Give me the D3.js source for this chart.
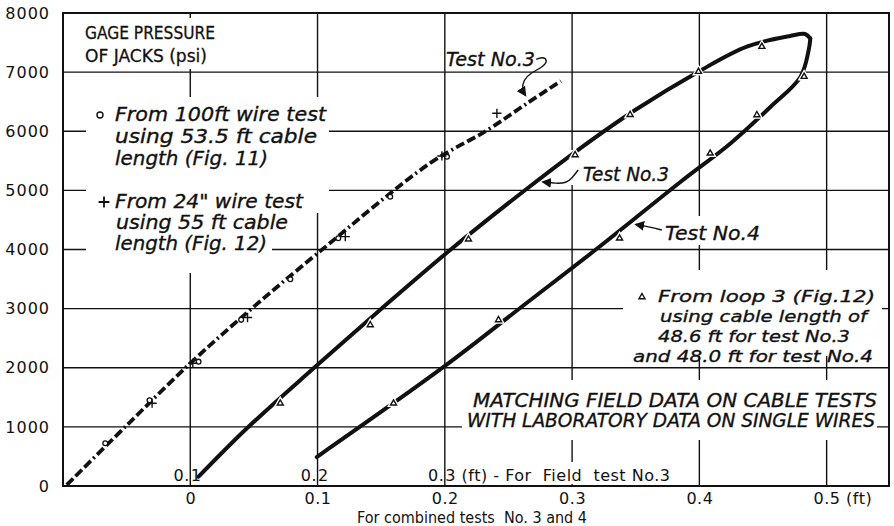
<!DOCTYPE html>
<html>
<head>
<meta charset="utf-8">
<script src="https://cdn.jsdelivr.net/npm/d3@7"></script>
<style>
  body { margin: 0; background: #fff; }
  svg text { fill: #111; }
  .ann { font-family: "DejaVu Sans", sans-serif; font-style: italic; font-size: 19px; stroke: #111; stroke-width: 0.35px; }
  .small { font-size: 16.5px; }
  .lbl { font-family: "DejaVu Sans", sans-serif; font-size: 16px; }
  .cond { font-family: "DejaVu Sans Condensed", "Liberation Sans Narrow", "DejaVu Sans", sans-serif; font-stretch: condensed; font-size: 18.5px; stroke: #111; stroke-width: 0.3px; }
</style>
</head>
<body>
<svg id="chart" width="894" height="526"></svg>
<script>
// ---- values ----
const pressureTicks = [0, 1000, 2000, 3000, 4000, 5000, 6000, 7000, 8000];
const lengthTicks = [0, 0.1, 0.2, 0.3, 0.4, 0.5];
const lengthLabels = ["0", "0.1", "0.2", "0.3", "0.4", "0.5 (ft)"];
const fieldTicks = [0.1, 0.2, 0.3];            // field test No.3 scale = combined + 0.1
const fieldLabels = ["0.1", "0.2", "0.3 (ft) - For  Field  test No.3"];

// laboratory single wire curve (dash-dot)
const labFt  = [-0.097, -0.051, 0, 0.047, 0.0994, 0.1883, 0.2336, 0.2650, 0.2912];
const labPsi = [20, 1003, 2075, 2977, 3924, 5458, 6021, 6478, 6850];

// field test No.3 (loading branch) and No.4 (return branch)
const test3Ft  = [0.0065, 0.0445, 0.0969, 0.1506, 0.2042, 0.2632, 0.3064, 0.3496, 0.3993, 0.4373, 0.4713, 0.4831, 0.4870];
const test3Psi = [157, 976, 1991, 3006, 3992, 5007, 5712, 6360, 7008, 7431, 7612, 7645, 7573];
const test4Ft  = [0.4872, 0.4859, 0.4794, 0.4558, 0.4244, 0.3851, 0.3222, 0.2617, 0.2001, 0.0994];
const test4Psi = [7572, 7374, 6918, 6410, 5793, 5142, 4059, 3053, 2030, 490];

// data points
const circleFt  = [-0.0668, -0.032, 0.0065, 0.040, 0.0786, 0.1163, 0.1571, 0.2017];
const circlePsi = [722, 1450, 2103, 2810, 3496, 4190, 4894, 5570];
const plusFt  = [-0.030, 0.002, 0.045, 0.1218, 0.1977, 0.2409];
const plusPsi = [1400, 2075, 2850, 4218, 5582, 6304];
const triFt  = [0.0707, 0.1414, 0.2186, 0.3024, 0.3456, 0.3993, 0.4491, 0.4823, 0.4452, 0.4085, 0.3373, 0.2422, 0.1597];
const triPsi = [1399, 2723, 4173, 5599, 6279, 7008, 7431, 6923, 6275, 5627, 4190, 2808, 1399];

// leader arrows (ft, psi)
const leaderTop = [[0.2718, 7217], [0.2775, 7262], [0.2807, 7194], [0.2775, 7093], [0.2671, 6981], [0.2618, 6867], [0.2606, 6698], [0.2632, 6613]];
const leaderMid = [[0.3048, 5346], [0.3001, 5210], [0.2954, 5125], [0.2875, 5117], [0.2773, 5142]];
const leaderLow = [[0.3705, 4330], [0.3614, 4381], [0.3504, 4423]];

// ---- layout ----
const svg = d3.select("#chart");
const m = { left: 63, right: 889, top: 13, bottom: 486 };
const ink = "#111";

const x = d3.scaleLinear().domain([-0.1, 0.549]).range([m.left, m.right]);
const y = d3.scaleLinear().domain([0, 8000]).range([m.bottom, m.top]);

svg.append("rect").attr("width", 894).attr("height", 526).attr("fill", "#fff");

// grid
const grid = svg.append("g").attr("stroke", ink).attr("stroke-width", 1.4);
grid.selectAll("line.h").data(pressureTicks.slice(1, -1)).join("line")
  .attr("x1", m.left).attr("x2", m.right)
  .attr("y1", d => y(d)).attr("y2", d => y(d));
grid.selectAll("line.v").data(lengthTicks).join("line")
  .attr("y1", m.top).attr("y2", m.bottom)
  .attr("x1", d => x(d)).attr("x2", d => x(d));

// gaps in the grid behind the lettering
const gaps = [
  [78, 18, 222, 69], [86, 97, 329, 213], [86, 97, 272, 273],
  [566, 150, 674, 185], [662, 216, 766, 245], [623, 270, 882, 356],
  [462, 380, 877, 440], [452, 462, 676, 484]
];
svg.append("g").selectAll("rect").data(gaps).join("rect")
  .attr("x", d => d[0]).attr("y", d => d[1])
  .attr("width", d => d[2] - d[0]).attr("height", d => d[3] - d[1])
  .attr("fill", "#fff");

svg.append("rect")
  .attr("x", m.left).attr("y", m.top).attr("width", m.right - m.left).attr("height", m.bottom - m.top)
  .attr("fill", "none").attr("stroke", ink).attr("stroke-width", 2);

// axes
const yAxis = svg.append("g").attr("transform", `translate(${m.left},0)`)
  .call(d3.axisLeft(y).tickValues(pressureTicks).tickFormat(d3.format("d")).tickSize(0).tickPadding(13));
yAxis.select(".domain").remove();
yAxis.selectAll("text").attr("class", "lbl").attr("letter-spacing", 1).attr("fill", ink);

const xAxis = svg.append("g").attr("transform", `translate(0,${m.bottom})`)
  .call(d3.axisBottom(x).tickValues(lengthTicks).tickFormat((d, i) => lengthLabels[i]).tickSize(0).tickPadding(7));
xAxis.select(".domain").remove();
xAxis.selectAll("text").attr("class", "lbl").attr("letter-spacing", 0.5).attr("fill", ink)
  .style("white-space", "pre")
  .filter((d, i) => i === lengthTicks.length - 1)
  .attr("text-anchor", "start").attr("dx", "-0.85em");

// field-test scale written just above the base line, split at the decimal point
const field = svg.append("g").attr("class", "lbl").attr("letter-spacing", 0.5);
fieldTicks.forEach((v, i) => {
  const s = fieldLabels[i];
  const xp = x(v - 0.1);
  field.append("text").attr("x", xp - 0.5).attr("y", 481).attr("text-anchor", "end").text(s.slice(0, 2));
  field.append("text").attr("x", xp + 0.5).attr("y", 481).style("white-space", "pre").text(s.slice(2));
});

svg.append("text").attr("class", "lbl").attr("font-size", 16)
  .attr("x", 357).attr("y", 523)
  .attr("textLength", 230).attr("lengthAdjust", "spacingAndGlyphs")
  .style("white-space", "pre")
  .text("For combined tests  No. 3 and 4");

// curves
const line = d3.line().x(d => x(d[0])).y(d => y(d[1])).curve(d3.curveCatmullRom.alpha(0.5));

svg.append("path").datum(d3.zip(labFt, labPsi))
  .attr("d", line).attr("fill", "none").attr("stroke", ink).attr("stroke-width", 3.8)
  .attr("stroke-dasharray", "9,3.5,9,3.5,9,3.5,2,3.5");

svg.append("path").datum(d3.zip(test3Ft, test3Psi))
  .attr("d", line).attr("fill", "none").attr("stroke", ink).attr("stroke-width", 4)
  .attr("stroke-linecap", "round").attr("stroke-linejoin", "round");
svg.append("path").datum(d3.zip(test4Ft, test4Psi))
  .attr("d", line).attr("fill", "none").attr("stroke", ink).attr("stroke-width", 4)
  .attr("stroke-linecap", "round").attr("stroke-linejoin", "round");

// markers
svg.append("g").selectAll("circle").data(d3.zip(circleFt, circlePsi)).join("circle")
  .attr("cx", d => x(d[0])).attr("cy", d => y(d[1])).attr("r", 2.4)
  .attr("fill", "#fff").attr("stroke", ink).attr("stroke-width", 1.3);

svg.append("g").selectAll("path").data(d3.zip(plusFt, plusPsi)).join("path")
  .attr("transform", d => `translate(${x(d[0])},${y(d[1])})`)
  .attr("d", d3.symbol().type(d3.symbolPlus).size(30))
  .attr("fill", "none").attr("stroke", ink).attr("stroke-width", 1.4);

const tri = d3.symbol().type(d3.symbolTriangle2).size(26);
const triG = svg.append("g");
triG.selectAll("path.halo").data(d3.zip(triFt, triPsi)).join("path").attr("class", "halo")
  .attr("transform", d => `translate(${x(d[0])},${y(d[1])})`)
  .attr("d", tri).attr("fill", "#fff").attr("stroke", "#fff").attr("stroke-width", 4);
triG.selectAll("path.mk").data(d3.zip(triFt, triPsi)).join("path").attr("class", "mk")
  .attr("transform", d => `translate(${x(d[0])},${y(d[1])})`)
  .attr("d", tri).attr("fill", "#fff").attr("stroke", ink).attr("stroke-width", 1.4);

// leader arrows
svg.append("defs").append("marker")
  .attr("id", "head").attr("viewBox", "0 0 10 10").attr("refX", 8).attr("refY", 5)
  .attr("markerWidth", 7).attr("markerHeight", 7).attr("orient", "auto-start-reverse")
  .append("path").attr("d", "M0,0L10,5L0,10z").attr("fill", ink);
const lead = d3.line().x(d => x(d[0])).y(d => y(d[1])).curve(d3.curveBasis);
[leaderTop, leaderMid, leaderLow].forEach(pts => {
  svg.append("path").attr("d", lead(pts)).attr("fill", "none")
    .attr("stroke", ink).attr("stroke-width", 1.4).attr("marker-end", "url(#head)");
});

// lettering: [x, baseline, text, width]
function block(cls, lines) {
  lines.forEach(([tx, ty, s, w]) => {
    svg.append("text").attr("class", cls).attr("x", tx).attr("y", ty)
      .attr("textLength", w).attr("lengthAdjust", "spacingAndGlyphs")
      .style("white-space", "pre").text(s);
  });
}
block("cond", [[85, 39, "GAGE PRESSURE", 130], [85, 62, "OF JACKS (psi)", 122]]);
block("ann", [
  [115, 121, "From 100ft wire test", 211], [115, 143, "using 53.5 ft cable", 202], [115, 165, "length (Fig. 11)", 153],
  [115, 208, "From 24\" wire test", 188], [116, 229, "using 55 ft cable", 172], [115, 250, "length (Fig. 12)", 152],
  [446, 66, "Test No.3", 89], [583, 181, "Test No.3", 86], [665, 240, "Test No.4", 95],
  [473, 407, "MATCHING FIELD DATA ON CABLE TESTS", 404],
  [467, 427, "WITH LABORATORY DATA ON SINGLE WIRES", 408]
]);
block("ann small", [
  [658, 302, "From loop 3 (Fig.12)", 217], [660, 322, "using cable length of", 207],
  [658, 342, "48.6 ft for test No.3", 192], [633, 362, "and 48.0 ft for test No.4", 240]
]);

// legend symbols
svg.append("circle").attr("cx", 100).attr("cy", 115).attr("r", 3)
  .attr("fill", "none").attr("stroke", ink).attr("stroke-width", 1.4);
svg.append("path").attr("transform", "translate(104,202)")
  .attr("d", d3.symbol().type(d3.symbolPlus).size(40))
  .attr("fill", "none").attr("stroke", ink).attr("stroke-width", 1.8);
svg.append("path").attr("transform", "translate(642,297)")
  .attr("d", tri).attr("fill", "none").attr("stroke", ink).attr("stroke-width", 1.4);
</script>
</body>
</html>
